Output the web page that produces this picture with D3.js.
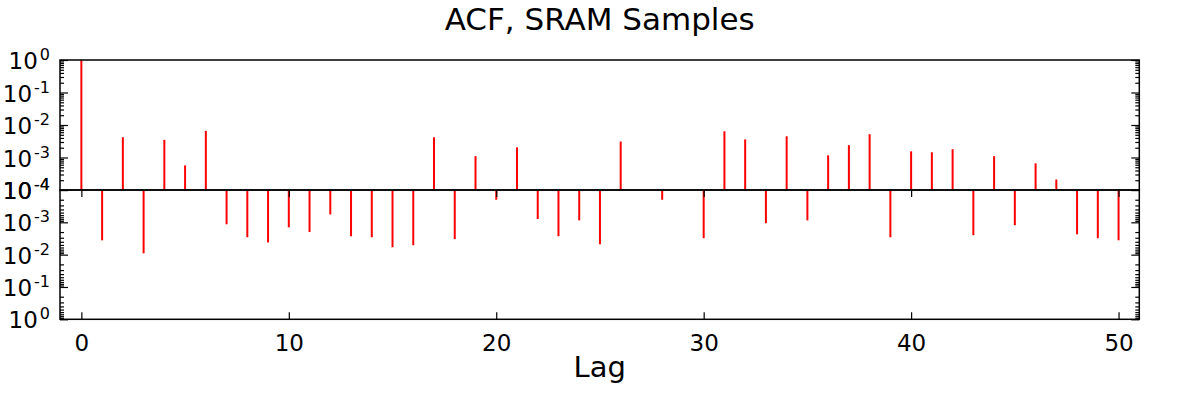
<!DOCTYPE html>
<html lang="en">
<head>
<meta charset="UTF-8">
<title>ACF, SRAM Samples</title>
<script src="https://cdn.jsdelivr.net/npm/d3@7"></script>
<style>
  body { margin: 0; background: #fff; }
  text { font-family: 'DejaVu Sans', sans-serif; fill: #000; }
</style>
</head>
<body>
<script>
// lags and autocorrelation values
const lags = [0, 1, 2, 3, 4, 5, 6, 7, 8, 9, 10, 11, 12, 13, 14, 15, 16, 17, 18, 19, 20,
  21, 22, 23, 24, 25, 26, 27, 28, 29, 30, 31, 32, 33, 34, 35, 36, 37, 38, 39, 40,
  41, 42, 43, 44, 45, 46, 47, 48, 49, 50];
const acf = [1, -3.6e-3, 4.2e-3, -9.1e-3, 3.5e-3, 5.7e-4, 6.6e-3, -1.15e-3, -2.9e-3, -4.2e-3,
  -1.43e-3, -2.0e-3, -5.7e-4, -2.7e-3, -2.9e-3, -5.9e-3, -5.1e-3, 4.2e-3, -3.3e-3, 1.1e-3,
  -2.0e-4, 2.05e-3, -7.9e-4, -2.7e-3, -8.7e-4, -4.8e-3, 3.1e-3, 0, -2.0e-4, 0,
  -3.1e-3, 6.4e-3, 3.6e-3, -1.07e-3, 4.5e-3, -8.7e-4, 1.17e-3, 2.4e-3, 5.2e-3, -2.9e-3,
  1.55e-3, 1.45e-3, 1.8e-3, -2.5e-3, 1.1e-3, -1.23e-3, 6.6e-4, 2.1e-4, -2.35e-3, -3.1e-3,
  -3.6e-3];
const xTicks = [0, 10, 20, 30, 40, 50];
const yTicks = [1e-4, 1e-3, 1e-2, 1e-1, 1];
const yExps = ['-4', '-3', '-2', '-1', '0'];

const W = 1200, H = 400;
const plotL = 60, plotR = 1139.3;
const plotT = 60, plotM = 190, plotB = 319.3;

const svg = d3.select('body').append('svg')
  .attr('width', W).attr('height', H);

const x = d3.scaleLinear().domain([-1.03, 51]).range([plotL, plotR]);
const yTop = d3.scaleLog().domain([1e-4, 1]).range([plotM, plotT]);
const yBot = d3.scaleLog().domain([1e-4, 1]).range([plotM, plotB]);

// minor ticks 2..9 in each decade
const minor = [];
for (let e = -4; e < 0; e++) {
  for (let m = 2; m <= 9; m++) minor.push(m * Math.pow(10, e));
}

const data = lags.map((l, i) => ({ lag: l, v: acf[i] })).filter(d => d.v !== 0);

// stems
const stems = svg.append('g');
stems.selectAll('line.pos')
  .data(data.filter(d => d.v > 0))
  .enter().append('line')
  .attr('x1', d => x(d.lag)).attr('x2', d => x(d.lag))
  .attr('y1', yTop(1e-4)).attr('y2', d => yTop(d.v))
  .attr('stroke', '#ff0000').attr('stroke-width', 2);
stems.selectAll('line.neg')
  .data(data.filter(d => d.v < 0))
  .enter().append('line')
  .attr('x1', d => x(d.lag)).attr('x2', d => x(d.lag))
  .attr('y1', yBot(1e-4)).attr('y2', d => yBot(-d.v))
  .attr('stroke', '#ff0000').attr('stroke-width', 2);

function yAxes(scale) {
  const g = svg.append('g');
  const lAx = g.append('g').attr('transform', `translate(${plotL},0)`);
  lAx.call(d3.axisLeft(scale).tickValues(yTicks).tickSize(-8).tickFormat(''));
  lAx.append('g').call(d3.axisLeft(scale).tickValues(minor).tickSize(-4).tickFormat(''));
  const rAx = g.append('g').attr('transform', `translate(${plotR},0)`);
  rAx.call(d3.axisRight(scale).tickValues(yTicks).tickSize(-8).tickFormat(''));
  rAx.append('g').call(d3.axisRight(scale).tickValues(minor).tickSize(-4).tickFormat(''));
  g.selectAll('.domain').remove();
  g.selectAll('.tick line').attr('stroke', '#000').attr('stroke-width', 1.2);

  // labels 10^n
  const lab = g.selectAll('text.ylab')
    .data(yTicks)
    .enter().append('text')
    .attr('class', 'ylab')
    .attr('x', 50)
    .attr('y', d => scale(d) + 9)
    .attr('text-anchor', 'end')
    .style('font-size', '23px');
  lab.append('tspan').text('10');
  lab.append('tspan')
    .attr('dx', 2)
    .attr('dy', -9)
    .style('font-size', '16px')
    .text((d, i) => yExps[i]);
}
yAxes(yTop);
yAxes(yBot);

// x ticks only on lower panel (inside, top and bottom)
const xb = svg.append('g').attr('transform', `translate(0,${plotB})`)
  .call(d3.axisBottom(x).tickValues(xTicks).tickSize(-7).tickPadding(15));
xb.select('.domain').remove();
xb.selectAll('.tick line').attr('stroke', '#000').attr('stroke-width', 1.2);
xb.selectAll('.tick text').style('font-size', '23px')
  .style('font-family', "'DejaVu Sans', sans-serif");
const xt = svg.append('g').attr('transform', `translate(0,${plotM})`)
  .call(d3.axisTop(x).tickValues(xTicks).tickSize(-7).tickFormat(''));
xt.select('.domain').remove();
xt.selectAll('.tick line').attr('stroke', '#000').attr('stroke-width', 1.2);

// frames
const frame = svg.append('g').attr('fill', 'none').attr('stroke', '#000').attr('stroke-width', 1.5);
frame.append('rect').attr('x', plotL).attr('y', plotT).attr('width', plotR - plotL).attr('height', plotM - plotT);
frame.append('rect').attr('x', plotL).attr('y', plotM).attr('width', plotR - plotL).attr('height', plotB - plotM);

// title and axis label
svg.append('text')
  .attr('x', (plotL + plotR) / 2).attr('y', 30)
  .attr('text-anchor', 'middle')
  .style('font-size', '31px')
  .text('ACF, SRAM Samples');

svg.append('text')
  .attr('x', (plotL + plotR) / 2).attr('y', 377)
  .attr('text-anchor', 'middle')
  .style('font-size', '29px')
  .text('Lag');
</script>
</body>
</html>
